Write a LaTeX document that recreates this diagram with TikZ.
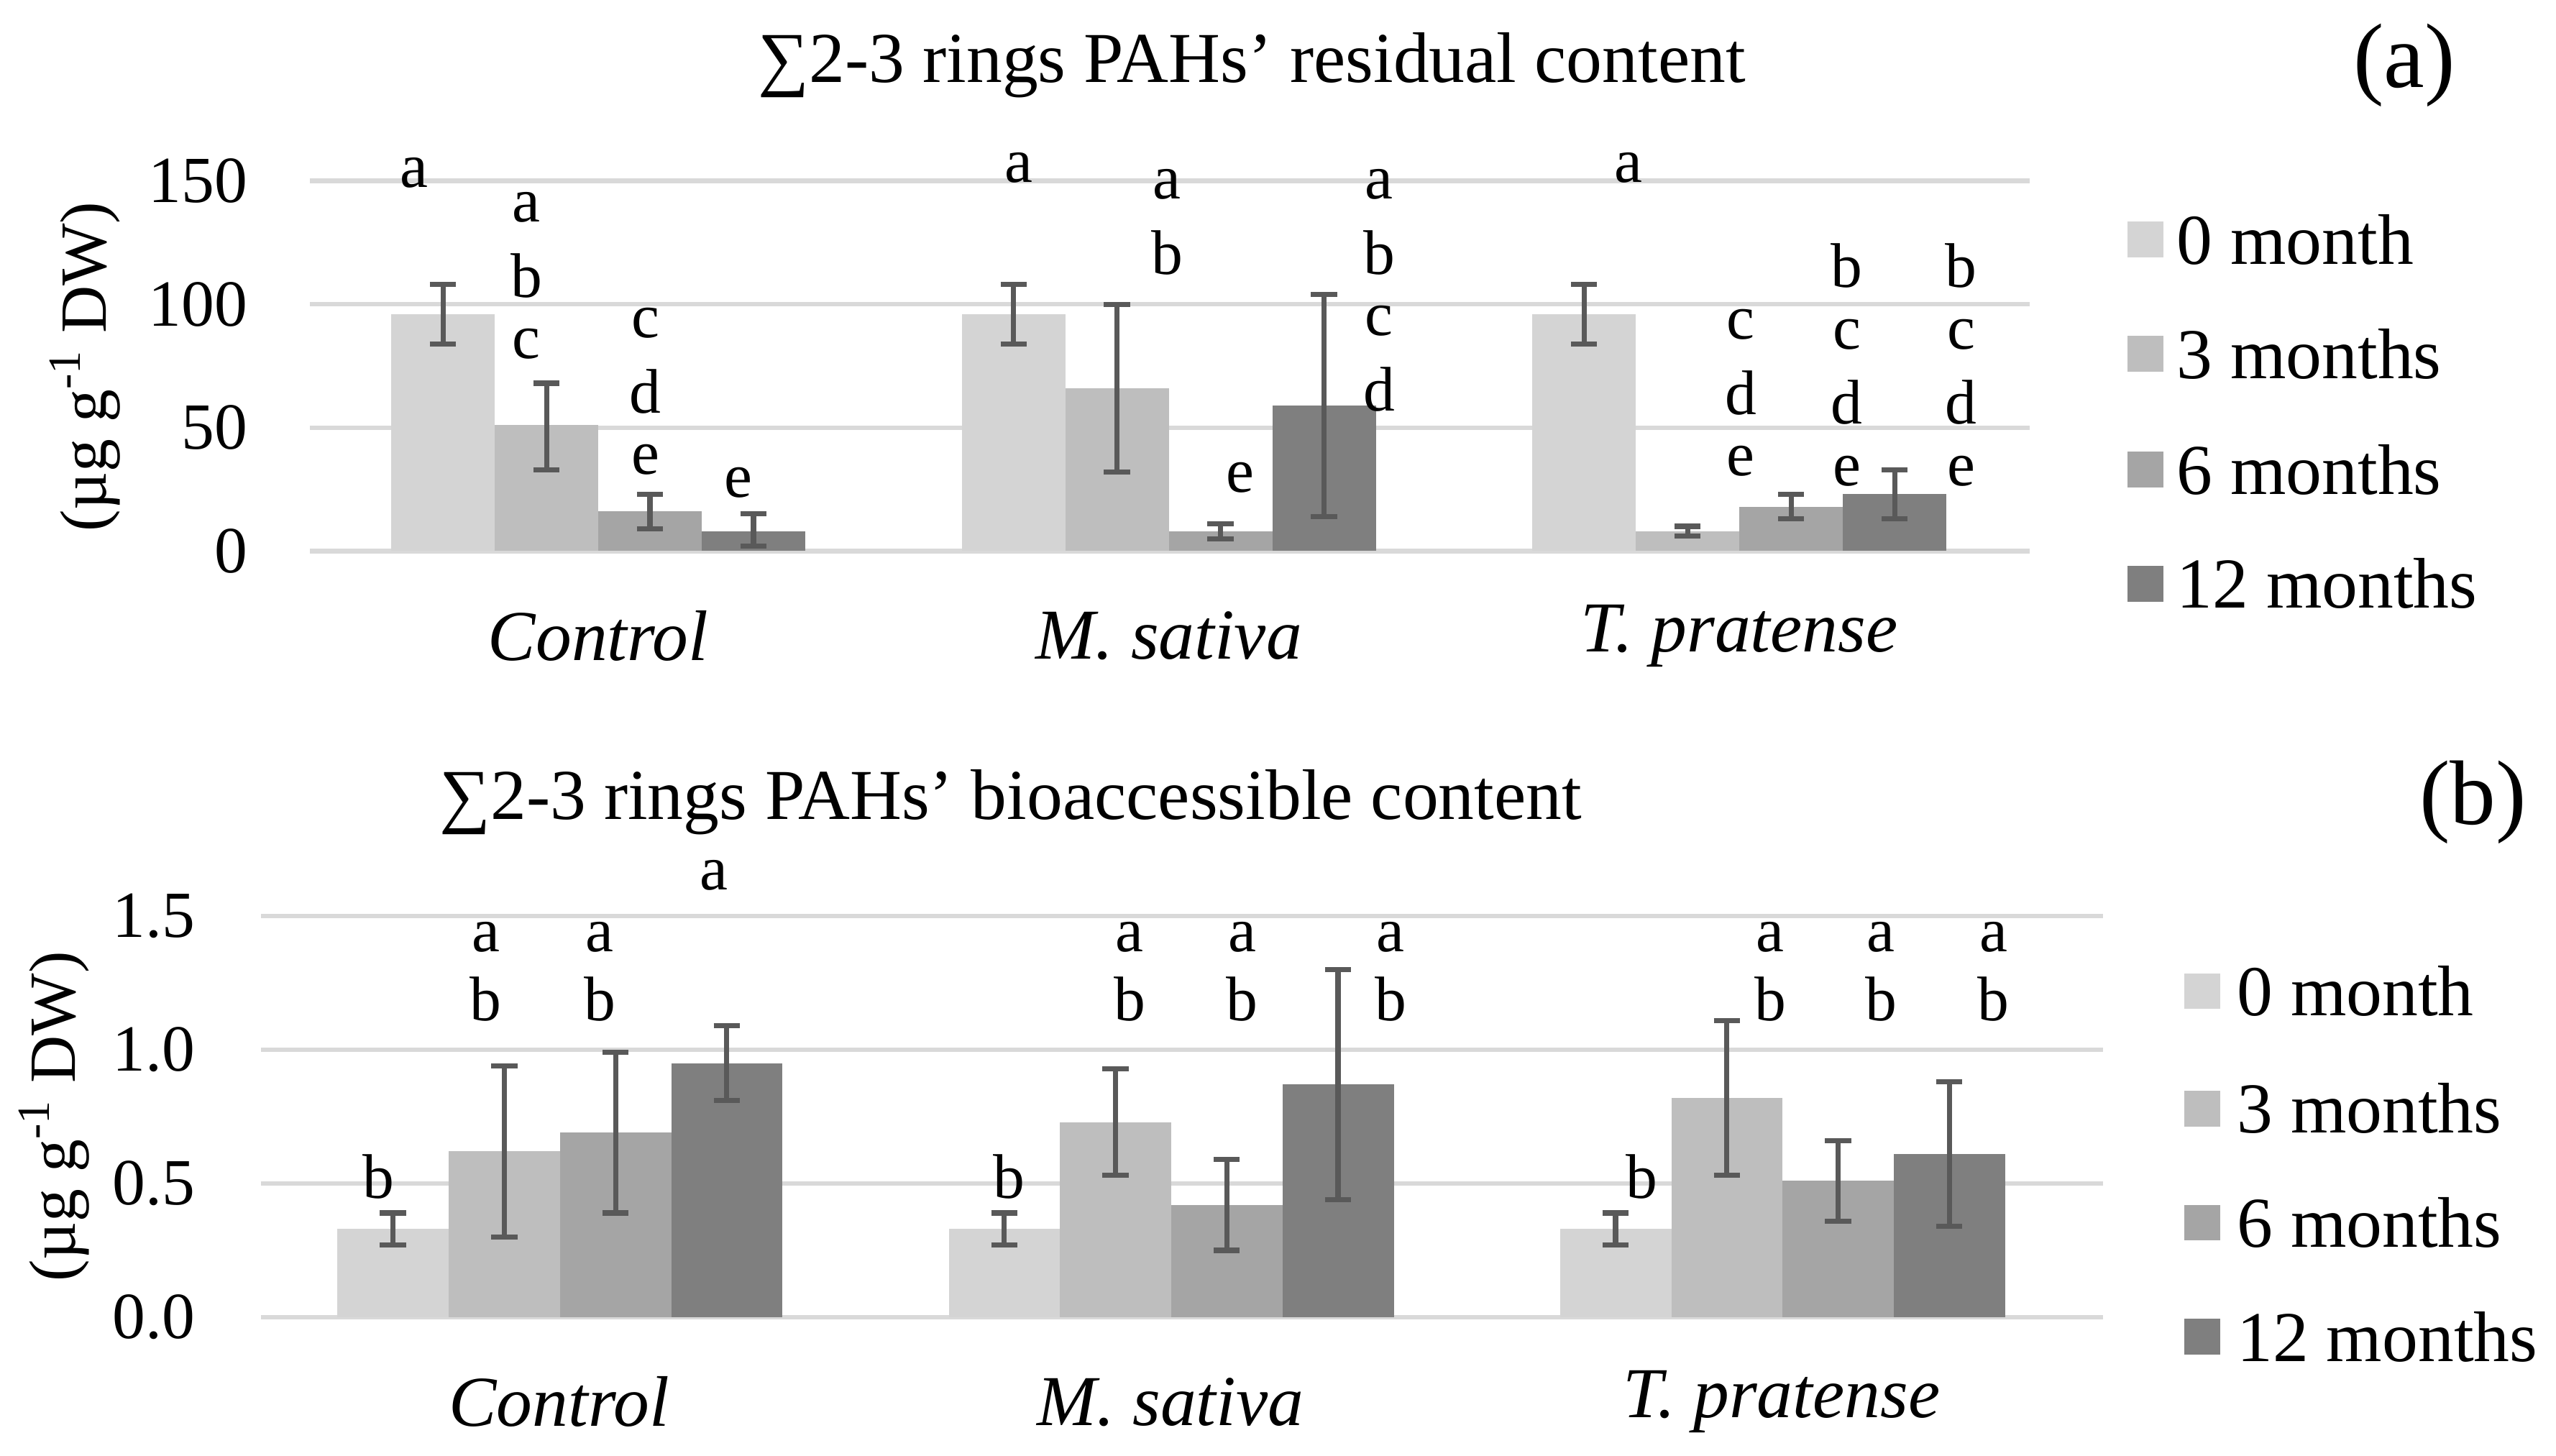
\documentclass[tikz,border=0pt]{standalone}
\usepackage{fontspec}
\setmainfont{Liberation Serif}
\begin{document}
\begin{tikzpicture}[x=0.02cm,y=-0.02cm,
  grid/.style={draw=gridc,line width=1.6pt},
  err/.style={draw=errc,line width=1.8pt},
  lt/.style={font=\fontsize{22}{22}\selectfont,inner sep=0pt},
  tick/.style={font=\fontsize{23}{23}\selectfont,anchor=east,inner sep=0pt},
  cat/.style={font=\fontsize{25}{25}\selectfont\itshape,inner sep=0pt},
  leg/.style={font=\fontsize{25}{25}\selectfont,anchor=west,inner sep=0pt},
  ttl/.style={font=\fontsize{25}{25}\selectfont,inner sep=0pt},
  pl/.style={font=\fontsize{32}{32}\selectfont,inner sep=0pt}]
\definecolor{gridc}{HTML}{D9D9D9}
\definecolor{errc}{HTML}{595959}
\definecolor{c0}{HTML}{D4D4D4}
\definecolor{c1}{HTML}{BEBEBE}
\definecolor{c2}{HTML}{A5A5A5}
\definecolor{c3}{HTML}{7F7F7F}
\useasboundingbox (0,0) rectangle (1568,893);
% ---------- panel (a) ----------
\foreach \v/\lab in {0/0,50/50,100/100,150/150}{
  \draw[grid] (190,{338-\v*1.5133}) -- (1245,{338-\v*1.5133});
  \node[tick] at (152,{338-\v*1.5133}) {\lab};}
\foreach \x/\v/\lo/\hi/\c in {
 240/96/84/108/c0, 303.5/51/33/68/c1, 367/16/9/23/c2, 430.5/8/2/15/c3,
 590/96/84/108/c0, 653.5/66/32/100/c1, 717/8/5/11/c2, 780.5/59/14/104/c3,
 940/96/84/108/c0, 1003.5/8/6/10/c1, 1067/18/13/23/c2, 1130.5/23/13/33/c3}{
  \fill[\c] (\x,338) rectangle ({\x+63.5},{338-\v*1.5133});
  \draw[err] ({\x+31.75},{338-\lo*1.5133}) -- ({\x+31.75},{338-\hi*1.5133});
  \draw[err] ({\x+23.75},{338-\lo*1.5133}) -- ({\x+39.75},{338-\lo*1.5133});
  \draw[err] ({\x+23.75},{338-\hi*1.5133}) -- ({\x+39.75},{338-\hi*1.5133});}
\foreach \x/\y/\t in {
 254/106/a, 323/127/a, 323/169/b, 323/211/c,
 396/198/c, 396/240/d, 396/282/e, 453/296/e,
 625/103/a, 716/113/a, 716/155/b, 761/293/e,
 846/113/a, 846/155/b, 846/197/c, 846/239/d,
 999/103/a, 1068/199/c, 1068/241/d, 1068/283/e,
 1133/163/b, 1133/205/c, 1133/247/d, 1133/289/e,
 1203/163/b, 1203/205/c, 1203/247/d, 1203/289/e}{
  \node[lt] at (\x,\y) {\t};}
\node[cat] at (367,390) {Control};
\node[cat] at (717,390) {M. sativa};
\node[cat] at (1067,390) {T. pratense};
\node[ttl] at (768,40) {∑2-3 rings PAHs{\char39} residual content};
\node[pl] at (1475,40) {(a)};
\node[font=\fontsize{23}{23}\selectfont,rotate=90,inner sep=0pt] at (52,225) {(µg g\textsuperscript{-1} DW)};
\foreach \c/\y/\t in {c0/147/0 month,c1/217/3 months,c2/288/6 months,c3/358/12 months}{
  \fill[\c] (1305,{\y-11}) rectangle (1327,{\y+11});
  \node[leg] at (1335,\y) {\t};}
% ---------- panel (b) ----------
\foreach \v/\lab in {0/0.0,0.5/0.5,1/1.0,1.5/1.5}{
  \draw[grid] (160,{808-\v*164}) -- (1290,{808-\v*164});
  \node[tick] at (120,{808-\v*164}) {\lab};}
\foreach \x/\v/\lo/\hi/\c in {
 207/0.33/0.27/0.39/c0, 275.25/0.62/0.30/0.94/c1, 343.5/0.69/0.39/0.99/c2, 411.75/0.95/0.81/1.09/c3,
 582/0.33/0.27/0.39/c0, 650.25/0.73/0.53/0.93/c1, 718.5/0.42/0.25/0.59/c2, 786.75/0.87/0.44/1.30/c3,
 957/0.33/0.27/0.39/c0, 1025.25/0.82/0.53/1.11/c1, 1093.5/0.51/0.36/0.66/c2, 1161.75/0.61/0.34/0.88/c3}{
  \fill[\c] (\x,808) rectangle ({\x+68.25},{808-\v*164});
  \draw[err] ({\x+34.1},{808-\lo*164}) -- ({\x+34.1},{808-\hi*164});
  \draw[err] ({\x+26.1},{808-\lo*164}) -- ({\x+42.1},{808-\lo*164});
  \draw[err] ({\x+26.1},{808-\hi*164}) -- ({\x+42.1},{808-\hi*164});}
\foreach \x/\y/\t in {
 232/722/b, 298/575/a, 298/613/b, 368/575/a, 368/613/b, 438/537/a,
 619/722/b, 693/575/a, 693/613/b, 762/575/a, 762/613/b, 853/575/a, 853/613/b,
 1007/722/b, 1086/575/a, 1086/613/b, 1154/575/a, 1154/613/b, 1223/575/a, 1223/613/b}{
  \node[lt] at (\x,\y) {\t};}
\node[cat] at (343,860) {Control};
\node[cat] at (718,860) {M. sativa};
\node[cat] at (1093,860) {T. pratense};
\node[ttl] at (620,492) {∑2-3 rings PAHs{\char39} bioaccessible content};
\node[pl] at (1517,492) {(b)};
\node[font=\fontsize{23}{23}\selectfont,rotate=90,inner sep=0pt] at (33,685) {(µg g\textsuperscript{-1} DW)};
\foreach \c/\y/\t in {c0/608/0 month,c1/680/3 months,c2/750/6 months,c3/820/12 months}{
  \fill[\c] (1340,{\y-11}) rectangle (1362,{\y+11});
  \node[leg] at (1372,\y) {\t};}
\end{tikzpicture}
\end{document}
